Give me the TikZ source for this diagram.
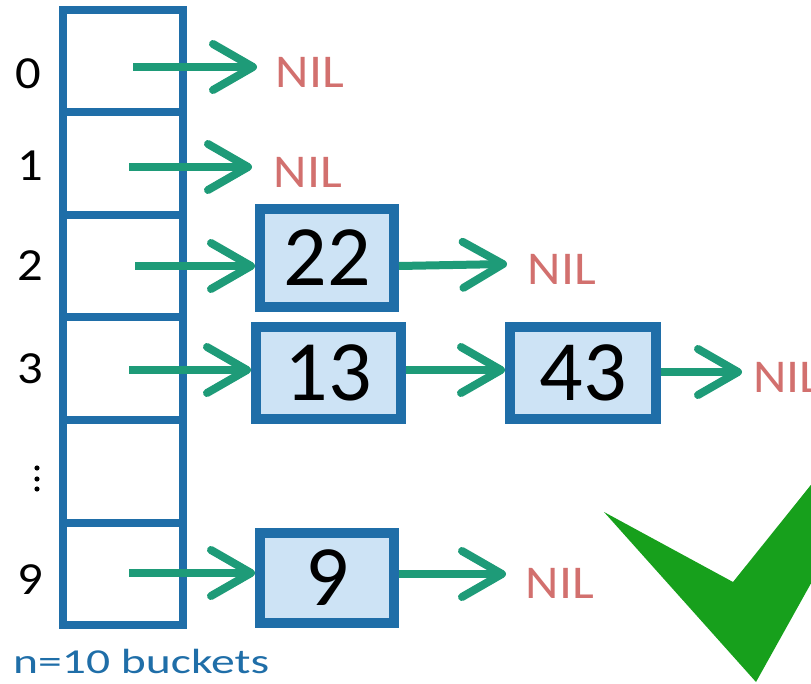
\documentclass[tikz,border=0pt]{standalone}
\usepackage{fontspec}
\setmainfont{Carlito}
\newfontfamily\nilfont[FakeStretch=1.1]{Carlito}
\newfontfamily\idxfont[FakeStretch=1.1]{Carlito}
\newfontfamily\capfont[FakeStretch=1.36]{Carlito}
\usetikzlibrary{arrows.meta}
\definecolor{cellblue}{RGB}{31,110,168}
\definecolor{boxfill}{RGB}{205,227,245}
\definecolor{linkgreen}{RGB}{30,155,120}
\definecolor{nilred}{RGB}{210,112,110}
\definecolor{tickgreen}{RGB}{23,160,28}
\tikzset{
  cell/.style={draw=cellblue, line width=8pt, rectangle, inner sep=0pt,
    minimum width=120pt, minimum height=102.5pt},
  elem/.style={draw=cellblue, fill=boxfill, line width=10pt, rectangle, inner sep=0pt,
    font=\fontsize{86}{90}\selectfont},
  link/.style={draw=linkgreen, line width=8pt,
    -{Straight Barb[length=40pt,width=46pt,round]}},
  nil/.style={text=nilred, inner sep=0pt, font=\nilfont\fontsize{47}{50}\selectfont},
  idx/.style={inner sep=0pt, font=\idxfont\fontsize{46}{50}\selectfont},
}
\begin{document}
\begin{tikzpicture}[x=1pt,y=-1pt]
\useasboundingbox (0,0) rectangle (811,684);
\begin{scope}
\clip (0,0) rectangle (811,684);

% bucket array
\foreach \i/\yy in {0/61.25,1/163.75,2/266.25,3/368.75,4/471.25,5/573.75}
  \node[cell] (c\i) at (123,\yy) {};

% bucket indices
\node[idx] (i0) at (28,73.5) {0};
\node[idx] (i1) at (30,166) {1};
\node[idx] (i2) at (30,266) {2};
\node[idx] (i3) at (30,369) {3};
\node[idx] (i9) at (30,580) {9};
\foreach \yy in {468,479,489} \fill (37,\yy) circle (2.6);

% list elements
\node[elem, minimum width=134pt, minimum height=98pt] (b22) at (327,258) {22};
\node[elem, minimum width=145pt, minimum height=92pt] (b13) at (328.5,373) {13};
\node[elem, minimum width=146pt, minimum height=92pt] (b43) at (583,373) {43};
\node[elem, minimum width=134pt, minimum height=90pt] (b9) at (327,578) {9};

% NIL terminators
\node[nil] (n0) at (310,72.5) {NIL};
\node[nil] (n1) at (308,172) {NIL};
\node[nil] (n2) at (562,269) {NIL};
\node[nil, anchor=west] (n3) at (753,377) {NIL};
\node[nil] (n9) at (560,583) {NIL};

% pointer start and end points
\coordinate (s0) at (133,67);  \coordinate (t0) at (257,67);
\coordinate (s1) at (129,167); \coordinate (t1) at (252,167);
\coordinate (s2) at (135,266);
\coordinate (s3) at (129,370);
\coordinate (s9) at (129,573);
\coordinate (t22) at (507,264);
\coordinate (t43) at (742,372);
\coordinate (t9) at (506,574);

% pointers
\draw[link] (s0) -- (t0);
\draw[link] (s1) -- (t1);
\draw[link] (s2) -- (s2 -| b22.west);
\draw[link] (s3) -- (s3 -| b13.west);
\draw[link] (s9) -- (s9 -| b9.west);
\draw[link] (b22.east |- 0,266) -- (t22);
\draw[link] (b13.east |- 0,370) -- (b43.west |- 0,370);
\draw[link] (b43.east |- 0,372) -- (t43);
\draw[link] (b9.east |- 0,574) -- (t9);

% caption
\node[text=cellblue, inner sep=0pt, anchor=base west, font=\capfont\fontsize{35}{38}\selectfont] (cap) at (13,673) {n=10 buckets};

% check mark
\fill[tickgreen] (604,512) -- (733,582) -- (863,420) -- (902,420) -- (756,682) -- cycle;
\end{scope}
\end{tikzpicture}
\end{document}
